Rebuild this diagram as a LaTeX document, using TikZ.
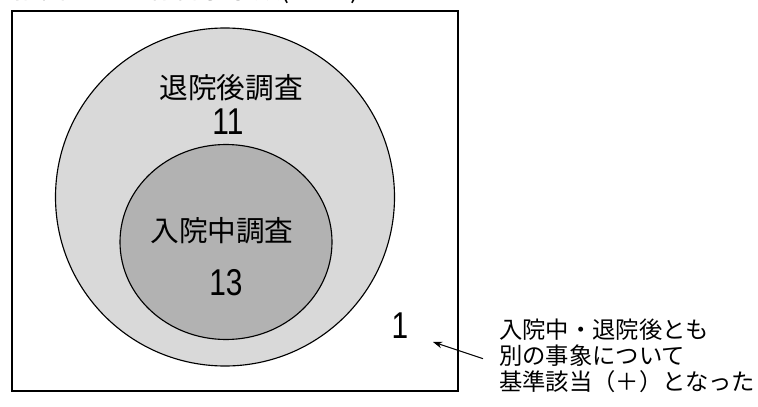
\documentclass[tikz,border=0pt]{standalone}
\usepackage{fontspec}
\setmainfont{Liberation Sans}
\newfontfamily\jp{Noto Sans CJK JP}
\usetikzlibrary{arrows.meta,shapes.geometric}
\definecolor{outerfill}{gray}{0.85}
\definecolor{innerfill}{gray}{0.70}
\newcommand\narrownum[1]{\scalebox{0.8}[1]{#1}}
\tikzset{
  lab/.style={inner sep=0pt, font=\jp\fontsize{21.5}{24}\selectfont},
  num/.style={inner sep=0pt, font=\fontsize{28}{30}\selectfont},
  note/.style={inner sep=0pt, align=left, font=\jp\fontsize{17.5}{19.3}\selectfont},
  ring/.style={draw=black, line width=0.85pt},
  ptr/.style={-{Stealth[length=7pt,width=5pt]}, line width=0.8pt}
}
\begin{document}
\begin{tikzpicture}[x=0.75pt,y=-0.75pt]
\useasboundingbox (0,0) rectangle (758,407);
\begin{scope}
\clip (0,0) rectangle (758,407);
\node[anchor=south west, inner sep=0pt, font=\jp\fontsize{20}{22}\selectfont] (title) at (14,4) {抽出された有害事象数(n=25)};
\end{scope}
\node[draw=black, line width=0.85pt, minimum width=446*0.75pt, minimum height=380*0.75pt, inner sep=0pt] (frame) at (235,201) {};
\node[ring, fill=outerfill, ellipse, minimum width=339*0.75pt, minimum height=338*0.75pt, inner sep=0pt] (outer) at (225,197) {};
\node[ring, fill=innerfill, ellipse, minimum width=212*0.75pt, minimum height=195*0.75pt, inner sep=0pt] (inner) at (226,242) {};
\node[lab] (outerlab) at (231,88) {退院後調査};
\node[num] (outernum) at (228,122) {\narrownum{11}};
\node[lab] (innerlab) at (222,231) {入院中調査};
\node[num] (innernum) at (226,283) {\narrownum{13}};
\node[num] (one) at (400,326) {\narrownum{1}};
\node[note, anchor=west] (lbl) at (499,356) {入院中・退院後とも\\別の事象について\\基準該当（＋）となった};
\coordinate (tip) at (433,342);
\draw[ptr] ([xshift=-12pt,yshift=-2pt]lbl.west) -- (tip);
\end{tikzpicture}
\end{document}
